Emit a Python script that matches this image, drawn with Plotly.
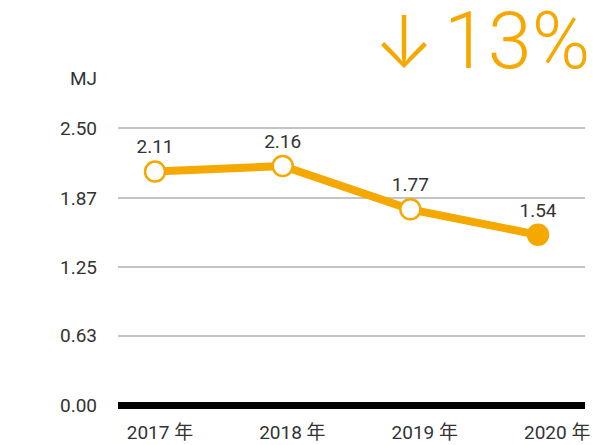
import plotly.graph_objects as go

ORANGE = "#F5A800"
TEXT = "#333333"
FONT = "Roboto, 'Noto Sans CJK JP', sans-serif"

years = ["2017 年", "2018 年", "2019 年", "2020 年"]
values = [2.11, 2.16, 1.77, 1.54]
value_labels = ["2.11", "2.16", "1.77", "1.54"]
marker_fill = ["white", "white", "white", ORANGE]
y_ticks = [0, 0.63, 1.25, 1.87, 2.50]
y_tick_labels = ["0.00", "0.63", "1.25", "1.87", "2.50"]
idx = list(range(len(years)))

fig = go.Figure()
fig.add_trace(go.Scatter(
    x=idx, y=values,
    mode="lines+markers+text",
    text=value_labels,
    textposition="top center",
    textfont={"size": 19, "color": TEXT, "family": FONT},
    line={"color": ORANGE, "width": 8},
    marker={"size": 20, "color": marker_fill, "line": {"color": ORANGE, "width": 2.5}},
    cliponaxis=False,
    showlegend=False,
))
# invisible trace carrying the year labels on a second x axis
fig.add_trace(go.Scatter(x=years, y=values, xaxis="x2", mode="markers",
                         marker={"opacity": 0}, hoverinfo="skip", showlegend=False))

# the page body adds 8px of margin, so margins are 8px smaller than the target
fig.update_layout(
    width=603, height=445,
    margin={"l": 110, "r": 26, "t": 107, "b": 34},
    paper_bgcolor="white",
    plot_bgcolor="white",
    font={"family": FONT, "color": TEXT, "size": 19},
    xaxis={"range": [-0.29, 3.368], "showticklabels": False, "showgrid": False,
           "zeroline": False, "fixedrange": True, "automargin": False},
    xaxis2={"overlaying": "x", "side": "bottom", "range": [-0.317, 3.21],
            "tickfont": {"size": 19, "color": TEXT}, "showgrid": False, "zeroline": False,
            "ticks": "", "ticklabelstandoff": 0, "automargin": False},
    yaxis={"range": [-0.12, 2.62], "tickvals": y_ticks, "ticktext": y_tick_labels,
           "showgrid": True, "gridcolor": "#c4c4c4", "gridwidth": 2,
           "zeroline": True, "zerolinecolor": "black", "zerolinewidth": 7,
           "ticklabelstandoff": 20, "tickfont": {"size": 19, "color": TEXT},
           "automargin": False},
    annotations=[
        {"text": "MJ", "xref": "paper", "yref": "paper", "x": -0.04, "y": 1.12,
         "xanchor": "right", "yanchor": "middle", "showarrow": False,
         "font": {"size": 19, "color": TEXT}},
        {"text": "↓", "xref": "paper", "yref": "paper", "x": 0.612, "y": 1.245,
         "xanchor": "center", "yanchor": "middle", "showarrow": False,
         "font": {"size": 72, "color": ORANGE, "family": "Inter", "weight": 300}},
        {"text": "13%", "xref": "paper", "yref": "paper", "x": 1.016, "y": 1.245,
         "xanchor": "right", "yanchor": "middle", "showarrow": False,
         "font": {"size": 79, "color": ORANGE, "family": "Roboto", "weight": 300}},
    ],
)

fig.write_html("out.html")
